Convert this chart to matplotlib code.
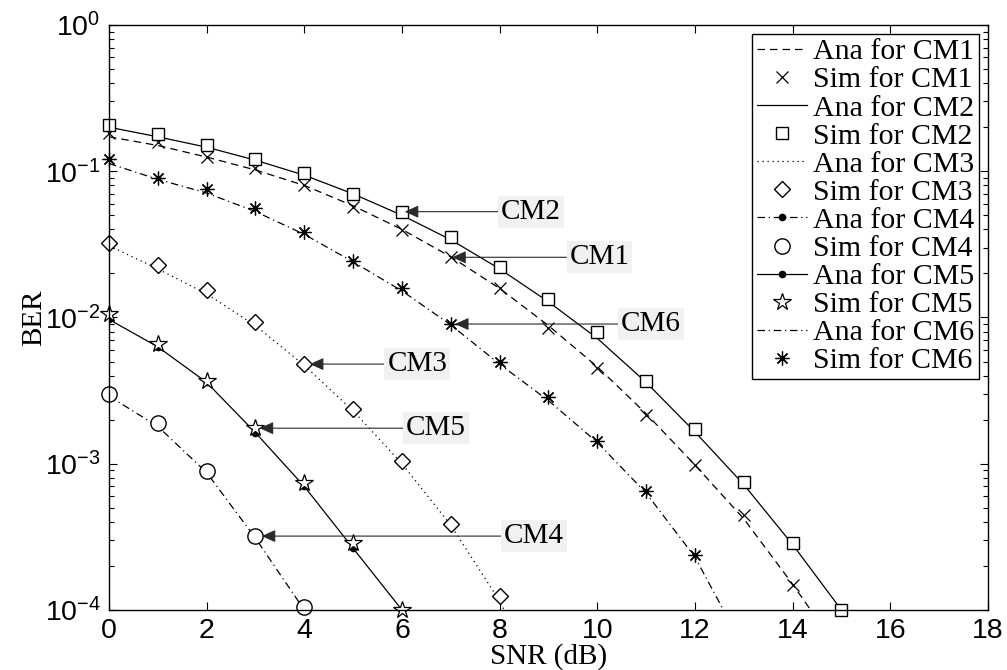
import numpy as np
import matplotlib
matplotlib.use("Agg")
import matplotlib.pyplot as plt

plt.rcParams['font.family'] = ['Liberation Serif', 'DejaVu Serif']
plt.rcParams['mathtext.fontset'] = 'custom'
plt.rcParams['mathtext.rm'] = 'Liberation Sans'
plt.rcParams['mathtext.it'] = 'Liberation Sans:italic'
plt.rcParams['mathtext.bf'] = 'Liberation Sans:bold'

# BER curves (analytic + simulated), SNR in dB
snr_ana_cm1 = list(range(0, 16))
ana_cm1 = [0.172, 0.150, 0.125, 0.102, 0.080, 0.058, 0.040, 0.026, 0.0158, 0.0088,
           0.0046, 0.0022, 0.00098, 0.00042, 0.00015, 0.00005]
snr_sim_cm1 = list(range(0, 15))
sim_cm1 = [0.182, 0.158, 0.126, 0.105, 0.0805, 0.057, 0.0397, 0.0258, 0.0160, 0.00851,
           0.00454, 0.00215, 0.00098, 0.000446, 0.000148]

snr_ana_cm2 = list(range(0, 16))
ana_cm2 = [0.200, 0.172, 0.146, 0.119, 0.094, 0.070, 0.050, 0.034, 0.0215, 0.0128,
           0.0072, 0.0036, 0.00165, 0.00072, 0.00028, 0.0001]
snr_sim_cm2 = list(range(0, 16))
sim_cm2 = [0.207, 0.179, 0.151, 0.121, 0.0968, 0.070, 0.0529, 0.0353, 0.0223, 0.0133,
           0.00792, 0.00368, 0.00172, 0.000747, 0.000289, 0.0001]

snr_ana_cm3 = list(range(0, 10))
ana_cm3 = [0.031, 0.0215, 0.0145, 0.0088, 0.0047, 0.0023, 0.00100, 0.00038, 0.000115, 0.000025]
snr_sim_cm3 = list(range(0, 9))
sim_cm3 = [0.0325, 0.0229, 0.0154, 0.00927, 0.0048, 0.00237, 0.00104, 0.000387, 0.000125]

snr_ana_cm4 = list(range(0, 5))
ana_cm4 = [0.0029, 0.0018, 0.00087, 0.00031, 0.0001]
snr_sim_cm4 = list(range(0, 5))
sim_cm4 = [0.0030, 0.00189, 0.000888, 0.00032, 0.000104]

snr_ana_cm5 = list(range(0, 7))
ana_cm5 = [0.0097, 0.0063, 0.0036, 0.00163, 0.00070, 0.000264, 0.0001]
snr_sim_cm5 = list(range(0, 7))
sim_cm5 = [0.0105, 0.00656, 0.0037, 0.00175, 0.00074, 0.000288, 0.0001]

snr_ana_cm6 = list(range(0, 14))
ana_cm6 = [0.113, 0.088, 0.071, 0.053, 0.037, 0.024, 0.0152, 0.0089, 0.0048, 0.0027,
           0.0014, 0.00063, 0.00023, 0.000055]
snr_sim_cm6 = list(range(0, 13))
sim_cm6 = [0.121, 0.0903, 0.0752, 0.0558, 0.0386, 0.0245, 0.0158, 0.00902, 0.00493, 0.00288,
           0.00143, 0.00065, 0.000238]

fig = plt.figure(figsize=(10.07, 6.70), dpi=100)
ax = fig.add_axes([0.1082, 0.0896, 0.8729, 0.8731])

lw = 0.9
dash = (0, (6, 4))
dot = (0, (1, 3))
dashdot = (0, (6, 3, 1, 3))

# CM1
ax.plot(snr_ana_cm1, ana_cm1, color='k', lw=lw, linestyle=dash, label='Ana for CM1')
ax.plot(snr_sim_cm1, sim_cm1, 'x', color='k', ms=8, mew=0.9, ls='none', clip_on=False,
        label='Sim for CM1')
# CM2
ax.plot(snr_ana_cm2, ana_cm2, color='k', lw=lw, linestyle='-', label='Ana for CM2')
ax.plot(snr_sim_cm2, sim_cm2, 's', color='k', mfc='white', ms=9, mew=1.0, ls='none',
        clip_on=False, label='Sim for CM2')
# CM3
ax.plot(snr_ana_cm3, ana_cm3, color='k', lw=lw, linestyle=dot, label='Ana for CM3')
ax.plot(snr_sim_cm3, sim_cm3, 'D', color='k', mfc='white', ms=8, mew=1.0, ls='none',
        clip_on=False, label='Sim for CM3')
# CM4
ax.plot(snr_ana_cm4, ana_cm4, color='k', lw=lw, linestyle=dashdot, marker='o', ms=4.5,
        label='Ana for CM4')
ax.plot(snr_sim_cm4, sim_cm4, 'o', color='k', mfc='white', ms=11, mew=1.0, ls='none',
        clip_on=False, label='Sim for CM4')
# CM5
ax.plot(snr_ana_cm5, ana_cm5, color='k', lw=lw, linestyle='-', marker='o', ms=4.5,
        label='Ana for CM5')
ax.plot(snr_sim_cm5, sim_cm5, '*', color='k', mfc='white', ms=13, mew=0.9, ls='none',
        clip_on=False, label='Sim for CM5')
# CM6
ax.plot(snr_ana_cm6, ana_cm6, color='k', lw=lw, linestyle=dashdot, label='Ana for CM6')
ax.plot(snr_sim_cm6, sim_cm6, marker=(8, 2, 0), color='k', ms=10, mew=0.9, ls='none',
        clip_on=False, label='Sim for CM6')

ax.set_yscale('log')
ax.set_xlim(0, 18)
ax.set_ylim(1e-4, 1)
ax.set_xticks(np.arange(0, 19, 2))
ax.set_yticks([1e-4, 1e-3, 1e-2, 1e-1, 1])

ax.tick_params(which='both', direction='in', top=True, right=True, colors='k')
ax.tick_params(which='major', length=6, width=0.8, labelsize=20.5, pad=6,
               labelfontfamily='Liberation Sans')
ax.tick_params(which='minor', length=3.5, width=0.8)
for s in ax.spines.values():
    s.set_linewidth(1.0)

ax.set_xlabel('SNR (dB)', fontsize=21, labelpad=-1)
ax.set_ylabel('BER', fontsize=21, labelpad=-2)

# arrows with labels pointing to the curves
arrow = dict(arrowstyle='-|>,head_length=0.4,head_width=0.18', color='#2a2a2a', lw=0.8,
             shrinkA=0)
box = dict(boxstyle='square,pad=0.1', fc='#f1f1f1', ec='none')
notes = [('CM2', snr_sim_cm2[6], sim_cm2[6], 8.03, 2),
         ('CM1', snr_sim_cm1[7], sim_cm1[7], 9.43, 1),
         ('CM6', snr_sim_cm6[7], sim_cm6[7], 10.49, 3),
         ('CM3', snr_sim_cm3[4], sim_cm3[4], 5.70, 4),
         ('CM5', snr_sim_cm5[3], sim_cm5[3], 6.08, 3),
         ('CM4', snr_sim_cm4[3], sim_cm4[3], 8.09, 4.5)]
for name, px, py, tx, sh in notes:
    ap = dict(arrow)
    ap['shrinkB'] = sh
    ax.annotate(name, xy=(px, py), xytext=(tx, py), fontsize=21, ha='left', va='center',
                bbox=box, arrowprops=ap, zorder=5)

leg = ax.legend(loc='upper right', fontsize=21.5, frameon=True, fancybox=False,
                edgecolor='k', framealpha=1, numpoints=1, handlelength=1.7,
                handletextpad=0.2, labelspacing=0.04, borderpad=0.15,
                borderaxespad=0.3)
leg.get_frame().set_linewidth(1.0)

fig.savefig('out.png', dpi=100)
